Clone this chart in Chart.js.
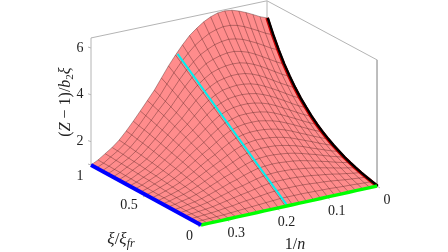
<!DOCTYPE html>
<html>
<head>
<meta charset="utf-8">
<style>html,body{margin:0;padding:0;background:#fff}canvas{display:block}</style>
<script src="https://cdn.jsdelivr.net/npm/chart.js@4"></script>
</head>
<body>
<canvas id="chart" width="448" height="252"></canvas>
<script>
const xiValues = [0,0.05,0.1,0.15,0.2,0.25,0.3,0.35,0.4,0.45,0.5,0.55,0.6,0.65,0.7,0.75,0.8,0.85,0.9,0.95,1]
const invNValues = [0,0.014,0.028,0.042,0.056,0.07,0.084,0.098,0.112,0.126,0.14,0.154,0.168,0.182,0.196,0.21,0.224,0.238,0.252,0.266,0.28,0.294,0.308,0.322,0.336,0.35]

// one row per 1/n value, one column per xi value
const zRows = [
    [1,1.06,1.12,1.19,1.27,1.36,1.46,1.58,1.71,1.86,2.03,2.22,2.44,2.69,2.96,3.28,3.64,4.04,4.51,5.03,5.62],
    [1,1.07,1.15,1.23,1.33,1.43,1.55,1.67,1.82,1.98,2.16,2.36,2.58,2.83,3.11,3.44,3.79,4.19,4.65,5.16,5.74],
    [1,1.09,1.18,1.28,1.39,1.51,1.64,1.78,1.94,2.11,2.30,2.51,2.74,3.00,3.29,3.61,3.97,4.37,4.83,5.33,5.90],
    [1,1.11,1.21,1.33,1.46,1.60,1.74,1.89,2.07,2.25,2.45,2.67,2.91,3.18,3.47,3.79,4.15,4.55,5.00,5.49,6.05],
    [1,1.12,1.25,1.39,1.53,1.68,1.84,2.00,2.19,2.38,2.60,2.82,3.07,3.35,3.64,3.97,4.33,4.72,5.15,5.64,6.18],
    [1,1.14,1.29,1.44,1.60,1.76,1.93,2.12,2.31,2.52,2.74,2.97,3.23,3.51,3.80,4.13,4.48,4.87,5.29,5.76,6.28],
    [1,1.16,1.32,1.48,1.66,1.84,2.02,2.22,2.43,2.64,2.87,3.11,3.37,3.64,3.94,4.26,4.60,4.97,5.38,5.83,6.32],
    [1,1.17,1.34,1.53,1.71,1.91,2.10,2.30,2.52,2.74,2.97,3.22,3.47,3.75,4.04,4.35,4.68,5.04,5.43,5.84,6.30],
    [1,1.18,1.37,1.56,1.75,1.96,2.16,2.37,2.59,2.81,3.04,3.29,3.54,3.81,4.09,4.39,4.70,5.04,5.40,5.78,6.20],
    [1,1.19,1.39,1.59,1.79,1.99,2.20,2.42,2.64,2.86,3.10,3.33,3.58,3.84,4.11,4.39,4.68,4.99,5.33,5.68,6.05],
    [1,1.20,1.40,1.61,1.81,2.02,2.23,2.44,2.66,2.88,3.11,3.34,3.58,3.83,4.08,4.34,4.62,4.90,5.20,5.51,5.84],
    [1,1.20,1.40,1.61,1.82,2.03,2.24,2.45,2.67,2.88,3.10,3.33,3.55,3.79,4.03,4.27,4.52,4.78,5.04,5.31,5.60],
    [1,1.20,1.40,1.61,1.81,2.01,2.22,2.42,2.63,2.84,3.05,3.25,3.47,3.68,3.90,4.12,4.34,4.57,4.80,5.03,5.27],
    [1,1.20,1.39,1.59,1.78,1.98,2.17,2.37,2.56,2.76,2.95,3.15,3.34,3.54,3.73,3.93,4.12,4.32,4.51,4.71,4.90],
    [1,1.18,1.36,1.54,1.72,1.90,2.08,2.26,2.44,2.61,2.79,2.96,3.14,3.31,3.49,3.66,3.83,4.00,4.17,4.34,4.50],
    [1,1.16,1.32,1.48,1.64,1.81,1.96,2.12,2.28,2.44,2.59,2.75,2.90,3.05,3.20,3.35,3.49,3.64,3.78,3.92,4.05],
    [1,1.14,1.28,1.42,1.56,1.70,1.84,1.98,2.12,2.25,2.39,2.52,2.65,2.78,2.91,3.03,3.15,3.27,3.38,3.49,3.60],
    [1,1.12,1.25,1.37,1.50,1.62,1.74,1.86,1.97,2.09,2.21,2.32,2.43,2.55,2.65,2.76,2.86,2.96,3.05,3.14,3.22],
    [1,1.10,1.21,1.31,1.41,1.51,1.61,1.71,1.81,1.91,2.00,2.10,2.19,2.28,2.37,2.46,2.54,2.62,2.70,2.77,2.84],
    [1,1.08,1.16,1.25,1.33,1.41,1.49,1.57,1.65,1.72,1.80,1.88,1.95,2.02,2.09,2.16,2.23,2.30,2.36,2.41,2.47],
    [1,1.06,1.13,1.19,1.25,1.31,1.37,1.43,1.49,1.55,1.61,1.67,1.72,1.78,1.83,1.89,1.94,1.99,2.03,2.08,2.12],
    [1,1.04,1.09,1.13,1.18,1.22,1.27,1.31,1.35,1.39,1.44,1.48,1.52,1.56,1.60,1.63,1.67,1.70,1.74,1.77,1.80],
    [1,1.03,1.06,1.09,1.12,1.15,1.18,1.21,1.24,1.27,1.30,1.33,1.36,1.38,1.41,1.44,1.46,1.48,1.51,1.53,1.55],
    [1,1.02,1.04,1.06,1.08,1.10,1.12,1.14,1.15,1.17,1.19,1.21,1.23,1.24,1.26,1.28,1.29,1.31,1.32,1.34,1.35],
    [1,1.01,1.02,1.03,1.03,1.04,1.05,1.06,1.07,1.07,1.08,1.09,1.10,1.10,1.11,1.12,1.13,1.13,1.14,1.14,1.15],
    [1,1,1,1,1,1,1,1,1,1,1,1,1,1,1,1,1,1,1,1,1]
]

// the highlighted line at fixed 1/n, runs straight across the surface
const cyanInvN = 0.178
const cyanXi = [0,1]
const cyanZ = [1,4.93]

const zTicks = [1,2,4,6]
const xiTicks = [0,0.5]
const invNTicks = [0,0.1,0.2,0.3]

// isometric view of the box, result is in canvas-sized scale units
function project(xi, invN, z) {
    return {
        x: 377 - 176 * (invN / 0.35) - 110 * xi,
        y: 186 + 39 * (invN / 0.35) - 60 * xi - 23.4 * (z - 1)
    }
}

const lastV = invNValues.length - 1
const lastX = xiValues.length - 1
const rowLine = i => xiValues.map((xi, k) => project(xi, invNValues[i], zRows[i][k]))
const colLine = k => invNValues.map((v, i) => project(xiValues[k], v, zRows[i][k]))

const datasets = []
function addLine(data, color, width, order, extra) {
    datasets.push(Object.assign({
        data: data, borderColor: color, borderWidth: width, showLine: true,
        pointRadius: 0, fill: false, order: order, tension: 0,
        borderCapStyle: 'butt', borderJoinStyle: 'round'
    }, extra || {}))
}

// box behind the surface
const boxColor = '#b4b4b4'
addLine([project(1, 0.35, 1), project(1, 0.35, 6.43), project(1, 0, 6.35), project(0, 0, 6.39), project(0, 0, 1)], boxColor, 1, 100)
addLine([project(1, 0, 1), project(1, 0, 6.35)], boxColor, 1, 100)

// small ticks
const tickColor = '#b4b4b4'
zTicks.forEach(z => {
    const p = project(1, 0.35, z)
    addLine([p, {x: p.x - 3, y: p.y - 1}], tickColor, 1, 99)
})
invNTicks.forEach(v => {
    const p = project(0, v, 1)
    addLine([p, {x: p.x + 3, y: p.y + 2}], tickColor, 1, 99)
})
xiTicks.forEach(xi => {
    const p = project(xi, 0.35, 1)
    addLine([p, {x: p.x - 3, y: p.y + 2}], tickColor, 1, 99)
})

// surface outline filled as one shape
const outline = [].concat(
    colLine(0),
    rowLine(lastV),
    colLine(lastX).reverse(),
    rowLine(0).reverse()
)
addLine(outline, 'rgba(0,0,0,0)', 0, 90, {fill: 'shape', backgroundColor: '#ff8c8c'})

// mesh
const meshColor = 'rgba(60,20,20,0.6)'
for (let i = 0; i <= lastV; i++) addLine(rowLine(i), meshColor, 0.6, 80)
for (let k = 0; k <= lastX; k++) addLine(colLine(k), meshColor, 0.6, 80)

// coloured edges
addLine(rowLine(0), '#c00000', 3.4, 12)
addLine(rowLine(0).map(p => ({x: p.x + 0.8, y: p.y})), '#000000', 2.4, 11)
addLine(rowLine(lastV), '#0000ff', 4, 10)
addLine(colLine(0), '#00ff00', 3.4, 10)
addLine(cyanXi.map((xi, k) => project(xi, cyanInvN, cyanZ[k])), '#00f0f0', 2, 10)

const serif = '"Liberation Serif", "Times New Roman", serif'

// text pieces are [text, style, size, rise]
function drawRuns(ctx, runs, cx, cy, rot) {
    ctx.save()
    ctx.translate(cx, cy)
    ctx.rotate(rot)
    ctx.textBaseline = 'alphabetic'
    ctx.textAlign = 'left'
    ctx.fillStyle = '#222'
    let w = 0
    runs.forEach(r => {
        ctx.font = r[1] + ' ' + r[2] + 'px ' + serif
        w += ctx.measureText(r[0]).width
    })
    let x = -w / 2
    runs.forEach(r => {
        ctx.font = r[1] + ' ' + r[2] + 'px ' + serif
        ctx.fillText(r[0], x, 5 + r[3])
        x += ctx.measureText(r[0]).width
    })
    ctx.restore()
}

const labelsPlugin = {
    id: 'labels',
    afterDatasetsDraw(c) {
        const ctx = c.ctx
        const sx = c.scales.x, sy = c.scales.y
        const tick = (text, p, dx, dy) => {
            drawRuns(ctx, [[text, 'normal', 14, -0.5]], sx.getPixelForValue(p.x) + dx, sy.getPixelForValue(p.y) + dy, 0)
        }
        zTicks.forEach(z => {
            const p = project(1, 0.35, z)
            tick(String(z), p, -11, z === 1 ? 10 : -1)
        })
        tick('0.5', project(0.5, 0.35, 1), -17, 9)
        tick('0', project(0, 0.35, 1), -11.5, 10)
        invNTicks.forEach(v => tick(String(v), project(0, v, 1), 10, 13.5))

        drawRuns(ctx, [
            ['(', 'normal', 16, 0], ['Z', 'italic', 16, 0], [' \u2212 1)/', 'normal', 16, 0],
            ['b', 'italic', 16, 0], ['2', 'normal', 11, 2.5], ['\u03be', 'italic', 16, 0]
        ], 65, 102, -Math.PI / 2)
        drawRuns(ctx, [['1/', 'normal', 16, 0], ['n', 'italic', 16, 0]], 295, 244, 0)
        drawRuns(ctx, [
            ['\u03be', 'italic', 17, 0], ['/', 'normal', 17, 0], ['\u03be', 'italic', 17, 0], ['fr', 'italic', 12, 2.5]
        ], 121, 239, 0)
    }
}

new Chart(document.getElementById('chart').getContext('2d'), {
    type: 'scatter',
    data: {datasets: datasets},
    options: {
        responsive: false,
        animation: false,
        layout: {padding: 0},
        plugins: {legend: {display: false}, tooltip: {enabled: false}},
        scales: {
            x: {type: 'linear', min: 0, max: 448, display: false},
            y: {type: 'linear', min: 0, max: 252, reverse: true, display: false}
        }
    },
    plugins: [labelsPlugin]
})
</script>
</body>
</html>
